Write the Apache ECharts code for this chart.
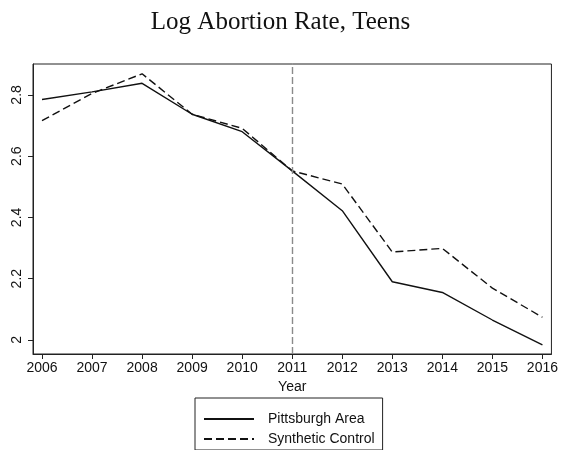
<!DOCTYPE html>
<html>
<head>
<meta charset="utf-8">
<script src="https://cdn.jsdelivr.net/npm/echarts@6/dist/echarts.min.js"></script>
<style>
  html, body { margin: 0; padding: 0; background: #fff; }
  #chart { width: 561px; height: 450px; }
</style>
</head>
<body>
<div id="chart"></div>
<script>
// Log teen abortion rate, Pittsburgh area vs. its synthetic control
const years = [2006, 2007, 2008, 2009, 2010, 2011, 2012, 2013, 2014, 2015, 2016];
const pittsburgh = [2.785, 2.810, 2.838, 2.737, 2.680, 2.552, 2.422, 2.190, 2.155, 2.065, 1.984];
const synthetic = [2.716, 2.805, 2.869, 2.737, 2.691, 2.552, 2.509, 2.287, 2.299, 2.169, 2.074];
const yTicks = [2, 2.2, 2.4, 2.6, 2.8];
const treatmentYear = 2011;

const chart = echarts.init(document.getElementById('chart'), null, { renderer: 'canvas' });

const pair = (xs, ys) => xs.map((x, i) => [x, ys[i]]);
const sans = 'Liberation Sans, Arial, Helvetica, sans-serif';

chart.setOption({
  animation: false,
  backgroundColor: '#fff',
  title: {
    text: 'Log Abortion Rate, Teens',
    left: 'center',
    top: 5,
    textStyle: { fontFamily: 'Liberation Serif, DejaVu Serif, serif', fontSize: 25, fontWeight: 'normal', color: '#111' }
  },
  grid: {
    left: 33, right: 9, top: 64, bottom: 96,
    show: true, borderColor: '#222', borderWidth: 1, containLabel: false
  },
  legend: {
    orient: 'vertical',
    left: 195, top: 398,
    padding: [14, 8, 4, 8],
    itemGap: 6,
    itemWidth: 50, itemHeight: 16,
    borderColor: '#222', borderWidth: 1,
    itemStyle: { opacity: 0 },
    textStyle: { fontFamily: sans, fontSize: 14, color: '#111', padding: [0, 0, 0, 9] },
    data: ['Pittsburgh Area', 'Synthetic Control']
  },
  xAxis: {
    type: 'value',
    min: 2005.82, max: 2016.18,
    name: 'Year',
    nameLocation: 'middle',
    nameGap: 23,
    nameTextStyle: { fontFamily: sans, fontSize: 14, color: '#111' },
    splitLine: { show: false },
    axisLine: { show: true, lineStyle: { color: '#222', width: 1 } },
    axisTick: { show: true, length: 5, lineStyle: { color: '#222' }, customValues: years },
    axisLabel: { fontFamily: sans, fontSize: 14, color: '#111', margin: 7, customValues: years, formatter: v => String(v) }
  },
  yAxis: {
    type: 'value',
    min: 1.954, max: 2.901,
    splitLine: { show: false },
    axisLine: { show: true, lineStyle: { color: '#222', width: 1 } },
    axisTick: { show: true, length: 5, lineStyle: { color: '#222' }, customValues: yTicks },
    axisLabel: {
      fontFamily: sans, fontSize: 14, color: '#111', margin: 9, rotate: 90,
      customValues: yTicks, formatter: v => String(Math.round(v * 10) / 10)
    }
  },
  series: [
    {
      name: 'Pittsburgh Area',
      type: 'line',
      data: pair(years, pittsburgh),
      symbol: 'none',
      lineStyle: { color: '#111', width: 1.4 },
      itemStyle: { color: '#111' },
      markLine: {
        silent: true,
        symbol: 'none',
        label: { show: false },
        lineStyle: { color: '#8a8a8a', type: [7, 3], width: 1.4 },
        data: [{ xAxis: treatmentYear }]
      }
    },
    {
      name: 'Synthetic Control',
      type: 'line',
      data: pair(years, synthetic),
      symbol: 'none',
      lineStyle: { color: '#111', width: 1.4, type: [8, 4] },
      itemStyle: { color: '#111' }
    }
  ]
});
</script>
</body>
</html>
